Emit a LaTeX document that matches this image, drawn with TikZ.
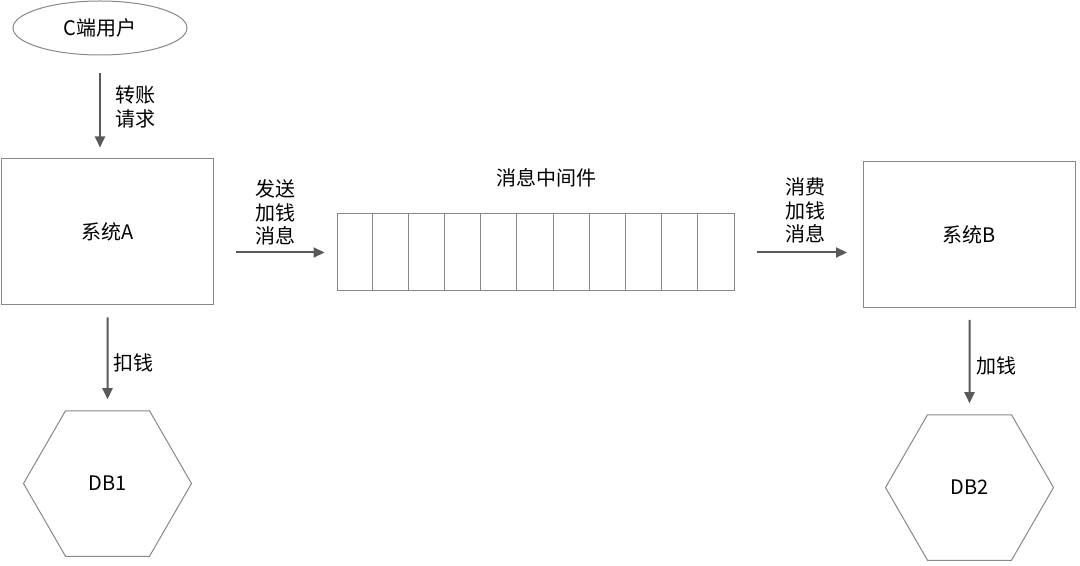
\documentclass[tikz,border=0pt]{standalone}
\usepackage{fontspec}
\setmainfont{Noto Sans CJK SC}
\usepackage{color}
\usetikzlibrary{arrows.meta,positioning,shapes.geometric}
\definecolor{boxgray}{RGB}{136,136,136}
\definecolor{arrowgray}{RGB}{89,89,89}
\tikzset{font=\fontsize{10}{11.75}\selectfont}
\tikzset{every picture/.style={line width=0.5pt}}
\tikzstyle{box}=[rectangle,draw=boxgray,minimum width=106pt,minimum height=73pt,inner sep=0pt]
\tikzstyle{db}=[regular polygon,regular polygon sides=6,draw=boxgray,minimum size=84pt,inner sep=0pt]
\tikzstyle{lbl}=[align=left,inner sep=0pt,text=black]

\begin{document}
\begin{tikzpicture}[x=0.5pt,y=-0.5pt]
\useasboundingbox (0,0) rectangle (1080,566);
\node[ellipse,draw=boxgray,minimum width=87pt,minimum height=27pt] (user) at (100,28) {C端用户};
\node[box] (sysA) at (107.5,232) {系统A};
\node[box] (sysB) at (969.5,234.5) {系统B};
\node[draw=boxgray,minimum width=198.5pt,minimum height=38.5pt,inner sep=0pt] (mq) at (535.5,252.5) {};
\foreach \i in {1,...,10}
  \draw[boxgray] (mq.north west) ++(\i*36.09,0) -- ++(0,77);
\node (mqtitle) at (546,178) {消息中间件};
\node[db] (db1) at (107.5,483.5) {DB1};
\node[db] (db2) at (969.5,487.5) {DB2};
%\node (q0) at (355,252) {};
\path[-{Triangle[length=5.5pt,width=5pt]},arrowgray,line width=1pt]
(user.south) edge[shorten <=9pt,shorten >=5.5pt] node[lbl,right=7pt]{转账\\请求} (user.south |- sysA.north)
(sysA.east |- mq.west) edge[shorten <=11pt,shorten >=6pt] node[lbl,above=3pt]{发送\\加钱\\消息} (mq.west)
(mq.east) edge[shorten <=11pt,shorten >=8pt] node[lbl,above=4pt,xshift=3.5pt]{消费\\加钱\\消息} (sysB.west |- mq.east)
(sysA.south) edge[shorten <=6pt,shorten >=5.5pt] node[lbl,right=2.5pt,yshift=-2.5pt]{扣钱} (db1.north)
(sysB.south) edge[shorten <=6pt,shorten >=5.5pt] node[lbl,right=3pt,yshift=-2.5pt]{加钱} (db2.north);
\end{tikzpicture}
\end{document}
